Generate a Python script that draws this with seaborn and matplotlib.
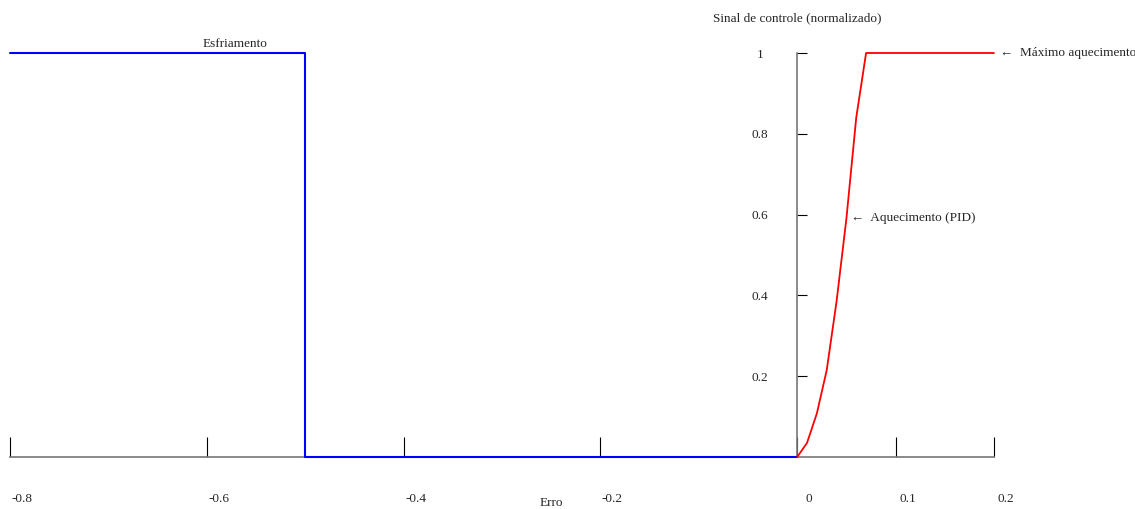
import numpy as np
import pandas as pd
import matplotlib
matplotlib.use("Agg")
import matplotlib.pyplot as plt
import matplotlib.transforms as mtransforms
import seaborn as sns

# dados
erro_esfriamento = [-0.8, -0.5, -0.5, 0.0]
sinal_esfriamento = [1.0, 1.0, 0.0, 0.0]

erro_aquecimento = [0.0, 0.01, 0.02, 0.03, 0.04, 0.05, 0.06, 0.07, 0.2]
sinal_aquecimento = [0.0, 0.035, 0.108, 0.215, 0.385, 0.59, 0.84, 1.0, 1.0]

xticks = [-0.8, -0.6, -0.4, -0.2, 0, 0.1, 0.2]
xticklabels = ["-0.8", "-0.6", "-0.4", "-0.2", "0", "0.1", "0.2"]
yticks = [0.2, 0.4, 0.6, 0.8, 1]
yticklabels = ["0.2", "0.4", "0.6", "0.8", "1"]

sns.set_style("white")
plt.rcParams['font.family'] = ['Liberation Serif', 'DejaVu Serif']
fs = 9.5

fig = plt.figure(figsize=(11.35, 5.09), dpi=100)
ax = fig.add_axes([10 / 1135, 52 / 509, 984 / 1135, 404 / 509])

df_esf = pd.DataFrame({"Erro": erro_esfriamento, "Sinal": sinal_esfriamento})
df_aq = pd.DataFrame({"Erro": erro_aquecimento, "Sinal": sinal_aquecimento})

sns.lineplot(data=df_esf, x="Erro", y="Sinal", sort=False, estimator=None,
             color="#0000ff", linewidth=1.5, ax=ax, clip_on=False, zorder=3)
sns.lineplot(data=df_aq, x="Erro", y="Sinal", sort=False, estimator=None,
             color="#ff0000", linewidth=1.3, ax=ax, clip_on=False, zorder=3)

ax.set_xlim(-0.8, 0.2)
ax.set_ylim(0, 1)

# eixos cruzando na origem
ax.spines['left'].set_position(('data', 0))
ax.spines['bottom'].set_position(('data', 0))
ax.spines['top'].set_visible(False)
ax.spines['right'].set_visible(False)
for s in ['left', 'bottom']:
    ax.spines[s].set_color("#777777")
    ax.spines[s].set_linewidth(1.2)

ax.set_xticks(xticks)
ax.set_xticklabels(xticklabels, fontsize=fs)
ax.set_yticks(yticks)
ax.set_yticklabels(yticklabels, fontsize=fs, ha='center')
ax.tick_params(axis='x', bottom=True, direction='in', length=14.5, width=0.8,
               color='black', pad=26)
ax.tick_params(axis='y', left=True, direction='in', length=7.5, width=0.8,
               color='black', pad=27)

offset = mtransforms.ScaledTranslation(12 / 100, 0, fig.dpi_scale_trans)
for lbl in ax.get_xticklabels():
    lbl.set_transform(lbl.get_transform() + offset)

ax.set_xlabel("")
ax.set_ylabel("")

ax.text(0, 1.087, "Sinal de controle (normalizado)", ha='center', va='center', fontsize=fs)
ax.text(-0.25, -0.114, "Erro", ha='center', va='center', fontsize=fs, clip_on=False)
ax.text(-0.5716, 1.022, "Esfriamento", ha='center', va='center', fontsize=fs)
ax.text(0.206, 1.0, "\u2190  Máximo aquecimento", ha='left', va='center', fontsize=fs)
ax.text(0.055, 0.592, "\u2190  Aquecimento (PID)", ha='left', va='center', fontsize=fs)

fig.savefig("out.png", dpi=100)
